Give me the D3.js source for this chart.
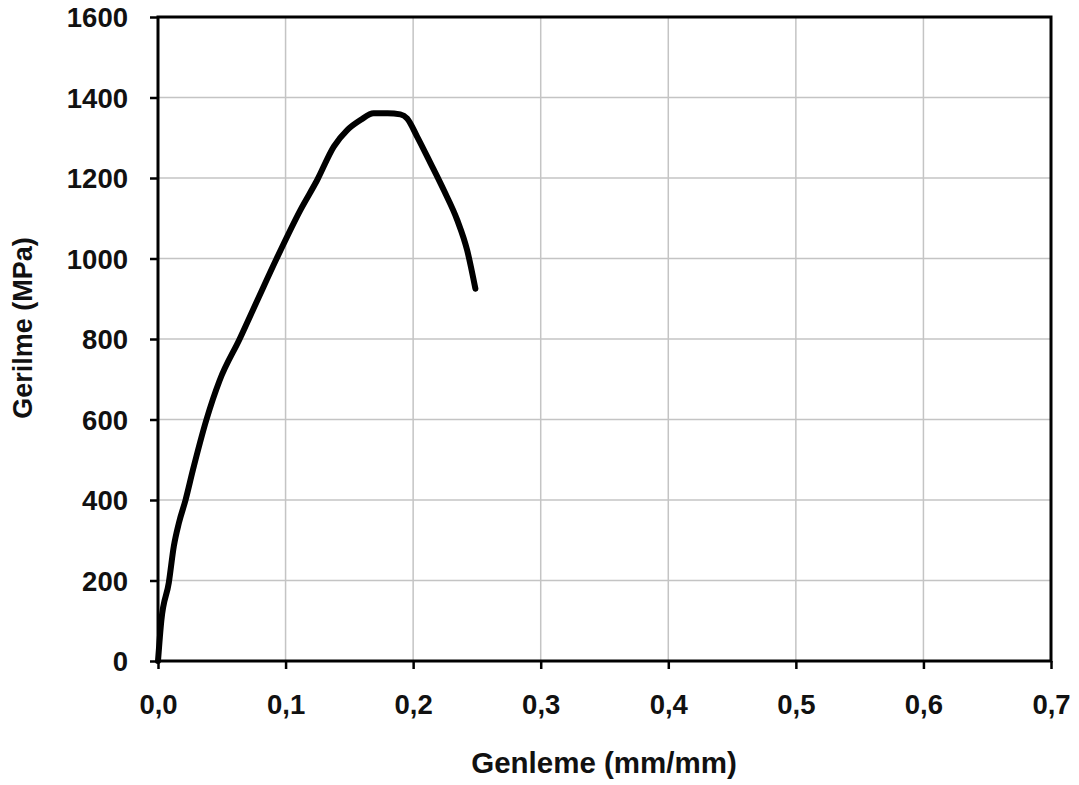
<!DOCTYPE html>
<html lang="tr">
  <head>
    <meta charset="UTF-8" />
    <title>Gerilme - Genleme</title>
    <script src="https://d3js.org/d3.v7.min.js"></script>
    <style>
      body { margin: 0; background: #fff; }
      svg { display: block; font-family: "Liberation Sans", Arial, sans-serif; }
      .grid line { stroke: #c4c4c4; stroke-width: 1.5; }
      .tick text { font-weight: bold; font-size: 27.5px; fill: #111; }
      .title { font-weight: bold; font-size: 29.5px; fill: #111; }
    </style>
  </head>
  <body>
    <svg id="chart" width="1079" height="785"></svg>
    <script>
      // gerilme-genleme eğrisi
      const strain = [0, 0.0026, 0.0085, 0.0124, 0.0163, 0.0216, 0.0274, 0.038, 0.0483, 0.064,
        0.078, 0.093, 0.1117, 0.1248, 0.1378, 0.1483, 0.1587, 0.169, 0.18, 0.19,
        0.1953, 0.2031, 0.2136, 0.224, 0.2345, 0.2423, 0.2488];
      const stress = [0, 100, 195, 285, 342, 400, 475, 600, 697, 800,
        897, 1000, 1121, 1195, 1278, 1319, 1344, 1361, 1361, 1358,
        1348, 1303, 1237, 1170, 1096, 1021, 925];
      const xTicks = [0, 0.1, 0.2, 0.3, 0.4, 0.5, 0.6, 0.7];
      const yTicks = [0, 200, 400, 600, 800, 1000, 1200, 1400, 1600];

      const margin = { top: 17, right: 28, bottom: 124, left: 158 };
      const width = 1079 - margin.left - margin.right;
      const height = 785 - margin.top - margin.bottom;

      const svg = d3.select("#chart");
      const g = svg.append("g").attr("transform", `translate(${margin.left},${margin.top})`);

      const x = d3.scaleLinear().domain([0, 0.7]).range([0, width]);
      const y = d3.scaleLinear().domain([0, 1600]).range([height, 0]);

      // ızgara çizgileri
      const grid = g.append("g").attr("class", "grid");
      grid.selectAll("line.v").data(xTicks.slice(1, -1)).enter().append("line")
        .attr("class", "v")
        .attr("x1", d => x(d)).attr("x2", d => x(d)).attr("y1", 0).attr("y2", height);
      grid.selectAll("line.h").data(yTicks.slice(1, -1)).enter().append("line")
        .attr("class", "h")
        .attr("x1", 0).attr("x2", width).attr("y1", d => y(d)).attr("y2", d => y(d));

      // eksenler
      const fmt = d => d3.format(".1f")(d).replace(".", ",");
      const xAxis = g.append("g").attr("transform", `translate(0,${height})`)
        .call(d3.axisBottom(x).tickValues(xTicks).tickFormat(fmt).tickSize(8).tickPadding(25));
      const yAxis = g.append("g")
        .call(d3.axisLeft(y).tickValues(yTicks).tickFormat(d3.format("d")).tickSize(8).tickPadding(22));
      [xAxis, yAxis].forEach(a => {
        a.select(".domain").remove();
        a.selectAll(".tick line").attr("stroke", "#000").attr("stroke-width", 2.5);
      });
      yAxis.selectAll(".tick text").attr("dy", "0.35em");

      // çerçeve
      g.append("rect").attr("width", width).attr("height", height)
        .attr("fill", "none").attr("stroke", "#000").attr("stroke-width", 3);

      // eğri
      const pts = strain.map((s, i) => [s, stress[i]]);
      g.append("path").datum(pts)
        .attr("fill", "none").attr("stroke", "#000").attr("stroke-width", 6)
        .attr("stroke-linejoin", "round").attr("stroke-linecap", "round")
        .attr("d", d3.line().x(d => x(d[0])).y(d => y(d[1])).curve(d3.curveMonotoneX));

      // eksen başlıkları
      svg.append("text").attr("class", "title")
        .attr("x", 604).attr("y", 773)
        .attr("text-anchor", "middle").text("Genleme (mm/mm)");
      svg.append("text").attr("class", "title")
        .attr("transform", "translate(32,328) rotate(-90)")
        .attr("text-anchor", "middle").style("font-size", "27px").text("Gerilme (MPa)");
    </script>
  </body>
</html>
